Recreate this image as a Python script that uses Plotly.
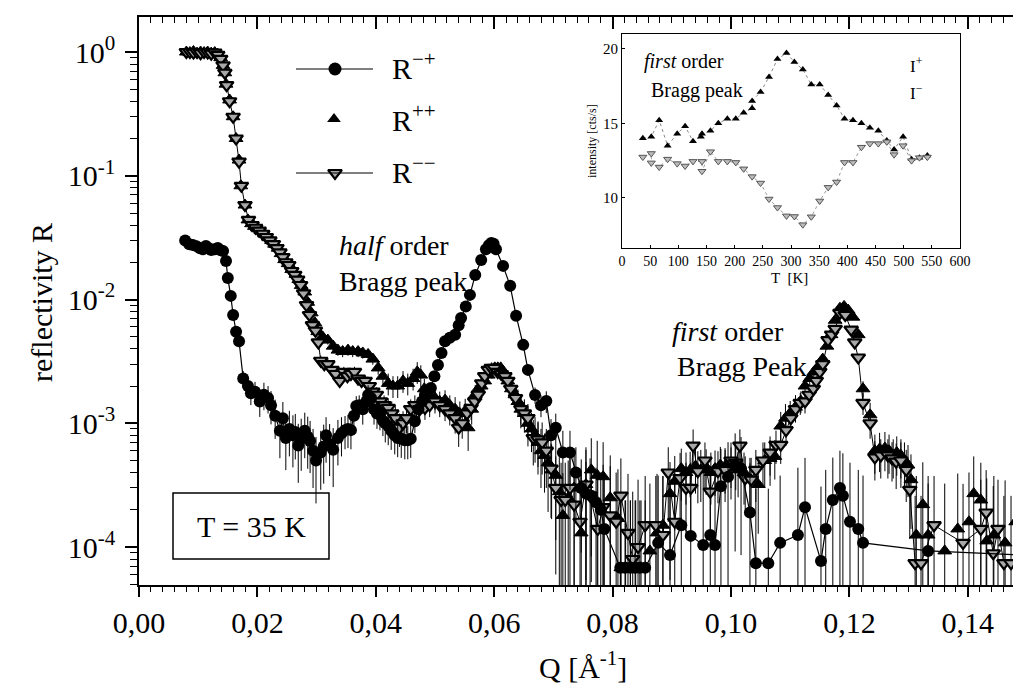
import plotly.graph_objects as go

# ---------------- main chart data ----------------
X_TICKS = [0.00, 0.02, 0.04, 0.06, 0.08, 0.10, 0.12, 0.14]
X_TICKTEXT = ["0,00", "0,02", "0,04", "0,06", "0,08", "0,10", "0,12", "0,14"]
Y_TICKS = [1, 0.1, 0.01, 0.001, 0.0001]
Y_TICKTEXT = ["10<sup>0</sup>", "10<sup>-1</sup>", "10<sup>-2</sup>", "10<sup>-3</sup>", "10<sup>-4</sup>"]

# R-+ (filled circles, connected)
Q_mp = [0.0078, 0.0085, 0.0091, 0.0097, 0.0103, 0.0108, 0.0113, 0.0118, 0.0122, 0.0128,
        0.0133, 0.0138, 0.0142, 0.0147, 0.0150, 0.0155, 0.0159, 0.0164, 0.0169, 0.0176,
        0.0184, 0.0189, 0.0196, 0.0204, 0.0211, 0.0218, 0.0223, 0.0230, 0.0238, 0.0243,
        0.0248, 0.0254, 0.0260, 0.0264, 0.0269, 0.0274, 0.0280, 0.0285, 0.0289, 0.0294,
        0.0299, 0.0307, 0.0312, 0.0316, 0.0322, 0.0328, 0.0336, 0.0342, 0.0348, 0.0353,
        0.0358, 0.0363, 0.0367, 0.0372, 0.0378, 0.0384, 0.0387, 0.0392, 0.0397, 0.0402,
        0.0407, 0.0412, 0.0416, 0.0421, 0.0426, 0.0432, 0.0437, 0.0443, 0.0449, 0.0454,
        0.0459, 0.0466, 0.0472, 0.0478, 0.0483, 0.0488, 0.0493, 0.0499, 0.0505, 0.0511,
        0.0517, 0.0525, 0.0534, 0.0540, 0.0544, 0.0552, 0.0559, 0.0568, 0.0578, 0.0586,
        0.0591, 0.0595, 0.0599, 0.0603, 0.0615, 0.0627, 0.0637, 0.0649, 0.0657, 0.0669,
        0.0679, 0.0688, 0.0696, 0.0704, 0.0716, 0.0728, 0.0738, 0.0747, 0.0755, 0.0764,
        0.0772, 0.0780, 0.0786, 0.0813, 0.0821, 0.0830, 0.0838, 0.0846, 0.0855, 0.0877,
        0.0897, 0.0916, 0.0932, 0.0953, 0.0965, 0.0973, 0.0983, 0.0995, 0.1007, 0.1017,
        0.1032, 0.1042, 0.1063, 0.1083, 0.1113, 0.1125, 0.1152, 0.1160, 0.1172, 0.1184,
        0.1189, 0.1201, 0.1215, 0.1223, 0.1333, 0.1520]
R_mp = [0.030, 0.028, 0.0276, 0.027, 0.026, 0.0255, 0.0271, 0.026, 0.0251, 0.0255,
        0.0261, 0.025, 0.0247, 0.0205, 0.0149, 0.0107, 0.0075, 0.0055, 0.0046, 0.0023,
        0.0020, 0.00175, 0.0018, 0.0015, 0.0017, 0.0016, 0.0014, 0.00115, 0.00087, 0.0011,
        0.00076, 0.0009, 0.0008, 0.00085, 0.00066, 0.00075, 0.00087, 0.00078, 0.00072, 0.0006,
        0.0005, 0.00058, 0.00065, 0.0008, 0.00068, 0.00061, 0.00076, 0.00083, 0.00088, 0.0009,
        0.00088, 0.00115, 0.00138, 0.0014, 0.0013, 0.0015, 0.00169, 0.0016, 0.0013, 0.0012,
        0.00117, 0.00105, 0.0010, 0.00095, 0.00087, 0.0008, 0.00076, 0.00075, 0.00073, 0.00073,
        0.00075, 0.00104, 0.0013, 0.0015, 0.00169, 0.0018, 0.00193, 0.0024, 0.00296, 0.0037,
        0.0046, 0.0049, 0.0052, 0.0062, 0.0071, 0.0088, 0.0109, 0.0158, 0.0209, 0.0255,
        0.0275, 0.0286, 0.0282, 0.0255, 0.0187, 0.0129, 0.0074, 0.0043, 0.0027, 0.00169,
        0.0014, 0.00151, 0.0008, 0.00092, 0.00058, 0.00058, 0.0004, 0.0003, 0.00027, 0.00026,
        0.00023, 0.0002, 0.00014, 6.8e-5, 6.8e-5, 6.8e-5, 6.8e-5, 6.8e-5, 6.8e-5, 0.000108,
        0.000086, 0.00015, 0.000123, 0.000104, 0.000125, 0.000104, 0.00031, 0.00037, 0.00046, 0.00043,
        0.00019, 0.000074, 0.000074, 0.000108, 0.000125, 0.00021, 0.000077, 0.00014, 0.00024, 0.0003,
        0.00026, 0.00016, 0.00014, 0.000108, 0.000093, 0.000085]
relerr_mp = [0.03, 0.03, 0.03, 0.03, 0.03, 0.03, 0.03, 0.03, 0.03, 0.03,
             0.03, 0.03, 0.03, 0.03, 0.03, 0.03, 0.05, 0.05, 0.05, 0.15,
             0.15, 0.2, 0.2, 0.25, 0.25, 0.25, 0.3, 0.35, 0.4, 0.35,
             0.45, 0.4, 0.45, 0.4, 0.5, 0.45, 0.4, 0.45, 0.45, 0.5,
             0.55, 0.5, 0.5, 0.4, 0.45, 0.5, 0.4, 0.35, 0.3, 0.3,
             0.3, 0.25, 0.2, 0.2, 0.25, 0.2, 0.2, 0.2, 0.25, 0.25,
             0.25, 0.25, 0.3, 0.3, 0.3, 0.3, 0.3, 0.3, 0.3, 0.3,
             0.3, 0.2, 0.15, 0.15, 0.1, 0.1, 0.1, 0.1, 0.05, 0.05,
             0.05, 0.05, 0.05, 0.05, 0.05, 0.05, 0.05, 0.05, 0.05, 0.05,
             0.05, 0.05, 0.05, 0.05, 0.05, 0.05, 0.05, 0.05, 0.1, 0.15,
             0.2, 0.2, 0.35, 0.3, 0.5, 0.5, 0.6, 0.7, 0.8, 0.8,
             0.9, 1.0, 1.5, 2.5, 2.5, 2.5, 2.5, 2.5, 2.5, 2.5,
             3.0, 2.0, 2.5, 3.0, 2.5, 3.0, 1.0, 0.9, 0.8, 0.8,
             1.5, 3.0, 3.0, 2.5, 2.5, 1.5, 3.0, 2.0, 1.2, 1.0,
             1.2, 2.0, 2.0, 2.5, 2.5, 0.0]

# R++ (filled up-triangles)
Q_pp = [0.0080, 0.0086, 0.0092, 0.0098, 0.0104, 0.0110, 0.0116, 0.0122, 0.0128, 0.0133,
        0.0138, 0.0142, 0.0145, 0.0147, 0.0153, 0.0159, 0.0164, 0.0169, 0.0172, 0.0179,
        0.0184, 0.0190, 0.0195, 0.0200, 0.0206, 0.0212, 0.0218, 0.0224, 0.0229, 0.0235,
        0.0240, 0.0246, 0.0252, 0.0258, 0.0265, 0.0270, 0.0274, 0.0280, 0.0285, 0.0291,
        0.0297, 0.0302, 0.0310, 0.0319, 0.0328, 0.0336, 0.0344, 0.0353, 0.0361, 0.0370,
        0.0378, 0.0387, 0.0395, 0.0404, 0.0412, 0.0421, 0.0429, 0.0437, 0.0446, 0.0454,
        0.0463, 0.0470, 0.0476, 0.0482, 0.0488, 0.0494, 0.0500, 0.0508, 0.0517, 0.0525,
        0.0534, 0.0542, 0.0551, 0.0556, 0.0562, 0.0568, 0.0573, 0.0578, 0.0584, 0.0590,
        0.0596, 0.0601, 0.0606, 0.0611, 0.0617, 0.0623, 0.0629, 0.0635, 0.0640, 0.0645,
        0.0651, 0.0657, 0.0663, 0.0669, 0.0674, 0.0679, 0.0685, 0.0691, 0.0697, 0.0704,
        0.0710, 0.0716, 0.0725, 0.0735, 0.0747, 0.0755, 0.0764, 0.0774, 0.0784, 0.0796,
        0.0809, 0.0814, 0.0822, 0.0830, 0.0839, 0.0848, 0.0863, 0.0875, 0.0885, 0.0897,
        0.0905, 0.0916, 0.0924, 0.0931, 0.0940, 0.0949, 0.0958, 0.0966, 0.0973, 0.0982,
        0.0990, 0.1000, 0.1012, 0.1022, 0.1032, 0.1046, 0.1057, 0.1066, 0.1074, 0.1084,
        0.1092, 0.1100, 0.1109, 0.1118, 0.1125, 0.1133, 0.1140, 0.1148, 0.1155, 0.1162,
        0.1169, 0.1176, 0.1184, 0.1191, 0.1198, 0.1206, 0.1215, 0.1223, 0.1235, 0.1243,
        0.1251, 0.1260, 0.1267, 0.1274, 0.1280, 0.1287, 0.1293, 0.1299, 0.1304, 0.1313,
        0.1324, 0.1333, 0.1361, 0.1383, 0.1402, 0.1410, 0.1422, 0.1432, 0.1444, 0.1463,
        0.1481]
R_pp = [1.0, 0.99, 1.01, 0.98, 1.0, 0.99, 1.0, 0.98, 0.99, 0.96,
        0.90, 0.78, 0.68, 0.55, 0.41, 0.30, 0.20, 0.134, 0.083, 0.058,
        0.044, 0.041, 0.039, 0.038, 0.036, 0.034, 0.032, 0.030, 0.028, 0.026,
        0.0235, 0.021, 0.0195, 0.0175, 0.016, 0.0145, 0.013, 0.0115, 0.0095, 0.0078,
        0.0065, 0.0055, 0.005, 0.0047, 0.0042, 0.0039, 0.0038, 0.0039, 0.0038, 0.0038,
        0.0037, 0.0036, 0.0033, 0.0028, 0.0024, 0.0021, 0.0020, 0.0020, 0.0022, 0.0021,
        0.0023, 0.0026, 0.00245, 0.0019, 0.0017, 0.0016, 0.0016, 0.0015, 0.00154, 0.0014,
        0.0013, 0.0012, 0.00126, 0.00092, 0.0013, 0.0017, 0.0019, 0.0020, 0.0022, 0.00245,
        0.0027, 0.0028, 0.0028, 0.0028, 0.0025, 0.0022, 0.0019, 0.0017, 0.0015, 0.0013,
        0.0012, 0.0010, 0.0009, 0.0008, 0.0007, 0.0006, 0.00055, 0.00048, 0.00042, 0.00038,
        0.00028, 0.00018, 0.00025, 0.00030, 0.00013, 0.00032, 0.00042, 0.00038, 0.00037, 0.00025,
        0.00017, 6.8e-5, 6.8e-5, 6.8e-5, 6.8e-5, 6.8e-5, 9.3e-5, 0.00013, 0.00015, 0.00027,
        0.00034, 0.00043, 0.00040, 0.00042, 0.00045, 0.00042, 0.00044, 0.00040, 0.00043, 0.00046,
        0.00045, 0.00044, 0.00042, 0.00040, 0.00035, 0.00032, 0.00050, 0.00052, 0.00054, 0.00095,
        0.00110, 0.00121, 0.00135, 0.00151, 0.0020, 0.0023, 0.0026, 0.0029, 0.0033, 0.0042,
        0.0052, 0.0068, 0.0085, 0.0088, 0.0082, 0.0072, 0.0052, 0.0019, 0.00117, 0.0006,
        0.00062, 0.00063, 0.0006, 0.00055, 0.00058, 0.00055, 0.0005, 0.00046, 0.00035, 0.000125,
        0.00022, 0.000125, 9.3e-5, 0.00014, 0.00016, 0.00027, 0.00024, 0.000112, 0.000125, 0.000108,
        0.00016]
relerr_pp = [0.02] * 20 + [0.03] * 20 + [
    0.05, 0.05, 0.08, 0.08, 0.1, 0.1, 0.1, 0.1, 0.1, 0.1,
    0.1, 0.1, 0.1, 0.12, 0.15, 0.2, 0.2, 0.2, 0.2, 0.2,
    0.2, 0.2, 0.2, 0.2, 0.2, 0.2, 0.2, 0.2, 0.2, 0.2,
    0.25, 0.25, 0.25, 0.35, 0.25, 0.2, 0.2, 0.2, 0.15, 0.15,
    0.15, 0.12, 0.12, 0.12, 0.15, 0.15, 0.2, 0.2, 0.25, 0.3,
    0.3, 0.35, 0.35, 0.4, 0.45, 0.5, 0.5, 0.6, 0.6, 0.7,
    0.9, 1.2, 1.0, 0.9, 2.0, 1.0, 0.8, 0.9, 0.9, 1.2,
    1.5, 2.5, 2.5, 2.5, 2.5, 2.5, 2.5, 2.0, 1.5, 0.8,
    0.6, 0.45, 0.45, 0.4, 0.4, 0.45, 0.4, 0.45, 0.4, 0.4,
    0.4, 0.45, 0.4, 0.45, 0.5, 0.6, 0.4, 0.4, 0.35, 0.3,
    0.3, 0.25, 0.25, 0.2, 0.15, 0.12, 0.1, 0.1, 0.08, 0.06,
    0.05, 0.05, 0.05, 0.05, 0.05, 0.05, 0.05, 0.15, 0.25, 0.35,
    0.35, 0.35, 0.35, 0.35, 0.35, 0.35, 0.4, 0.45, 0.6, 2.0,
    1.2, 2.0, 2.5, 1.8, 1.5, 1.0, 1.0, 2.2, 2.0, 2.2,
    1.5]

# R-- (open down-triangles, connected)
Q_mm = [0.0080, 0.0086, 0.0092, 0.0098, 0.0104, 0.0110, 0.0116, 0.0122, 0.0128, 0.0133,
        0.0138, 0.0142, 0.0145, 0.0148, 0.0153, 0.0159, 0.0164, 0.0169, 0.0173, 0.0179,
        0.0185, 0.0191, 0.0197, 0.0203, 0.0209, 0.0215, 0.0221, 0.0227, 0.0233, 0.0238,
        0.0243, 0.0248, 0.0253, 0.0258, 0.0263, 0.0268, 0.0273, 0.0278, 0.0283, 0.0288,
        0.0293, 0.0298, 0.0303, 0.0307, 0.0313, 0.0319, 0.0326, 0.0332, 0.0339, 0.0346,
        0.0352, 0.0358, 0.0364, 0.0370, 0.0376, 0.0382, 0.0389, 0.0395, 0.0401, 0.0408,
        0.0414, 0.0421, 0.0427, 0.0433, 0.0440, 0.0446, 0.0452, 0.0459, 0.0466, 0.0474,
        0.0483, 0.0491, 0.0500, 0.0508, 0.0517, 0.0525, 0.0534, 0.0540, 0.0546, 0.0554,
        0.0561, 0.0567, 0.0573, 0.0579, 0.0584, 0.0590, 0.0595, 0.0600, 0.0606, 0.0612,
        0.0618, 0.0623, 0.0628, 0.0636, 0.0645, 0.0651, 0.0657, 0.0666, 0.0674, 0.0681,
        0.0688, 0.0696, 0.0704, 0.0713, 0.0720, 0.0728, 0.0735, 0.0745, 0.0755, 0.0762,
        0.0775, 0.0784, 0.0796, 0.0806, 0.0814, 0.0826, 0.0834, 0.0843, 0.0855, 0.0873,
        0.0885, 0.0894, 0.0905, 0.0914, 0.0924, 0.0932, 0.0936, 0.0944, 0.0956, 0.0965,
        0.0978, 0.0990, 0.1000, 0.1008, 0.1015, 0.1024, 0.1034, 0.1042, 0.1054, 0.1066,
        0.1076, 0.1084, 0.1093, 0.1101, 0.1109, 0.1117, 0.1125, 0.1132, 0.1139, 0.1144,
        0.1150, 0.1155, 0.1164, 0.1170, 0.1176, 0.1184, 0.1193, 0.1203, 0.1209, 0.1215,
        0.1223, 0.1235, 0.1243, 0.1253, 0.1265, 0.1272, 0.1279, 0.1287, 0.1296, 0.1302,
        0.1311, 0.1321, 0.1343, 0.1392, 0.1422, 0.1431, 0.1443, 0.1451, 0.1461, 0.1473,
        0.1490]
R_mm = [1.0, 1.0, 0.99, 1.0, 0.98, 1.0, 0.99, 0.97, 0.99, 0.95,
        0.88, 0.78, 0.68, 0.54, 0.40, 0.30, 0.20, 0.13, 0.083, 0.058,
        0.044, 0.040, 0.038, 0.036, 0.034, 0.032, 0.030, 0.028, 0.026, 0.024,
        0.022, 0.020, 0.019, 0.017, 0.0158, 0.0145, 0.0131, 0.0112, 0.0090, 0.0075,
        0.0062, 0.0056, 0.0045, 0.0032, 0.0030, 0.0030, 0.0027, 0.0025, 0.0022, 0.0026,
        0.0024, 0.0025, 0.0026, 0.0023, 0.0022, 0.0022, 0.0020, 0.0018, 0.0017, 0.0015,
        0.0014, 0.00133, 0.0012, 0.0011, 0.00092, 0.0010, 0.0011, 0.0013, 0.0014, 0.0013,
        0.00133, 0.0014, 0.0015, 0.0014, 0.0013, 0.0012, 0.0011, 0.00092, 0.0010, 0.0012,
        0.00133, 0.0015, 0.0017, 0.0021, 0.0024, 0.0027, 0.0028, 0.0028, 0.0026, 0.0025,
        0.0024, 0.0022, 0.0019, 0.0016, 0.0013, 0.0012, 0.0011, 0.00076, 0.00074, 0.00070,
        0.0006, 0.00043, 0.0003, 0.00024, 0.00024, 0.0003, 0.00022, 0.00016, 0.00032, 0.00026,
        0.00014, 0.00021, 0.00018, 0.00016, 0.00026, 0.00013, 8.0e-5, 0.0001, 0.00015, 0.00015,
        0.000125, 0.0004, 0.00016, 0.00036, 0.0003, 0.0003, 0.00066, 0.00041, 0.0005, 0.00028,
        0.00041, 0.00042, 0.0005, 0.00048, 0.00066, 0.00036, 0.00035, 0.00042, 0.0005, 0.00058,
        0.00067, 0.00067, 0.00088, 0.0011, 0.0013, 0.00146, 0.0015, 0.0017, 0.0019, 0.0022,
        0.0026, 0.0030, 0.0047, 0.0052, 0.0058, 0.0078, 0.0075, 0.0057, 0.0045, 0.0034,
        0.00146, 0.0010, 0.00053, 0.00055, 0.00055, 0.00052, 0.00049, 0.0005, 0.00042, 0.00029,
        7.4e-5, 7.4e-5, 0.00015, 0.000108, 0.00014, 0.00019, 8.9e-5, 0.00014, 7.4e-5, 7.4e-5,
        9.0e-5]
relerr_mm = [0.02] * 20 + [0.03] * 20 + [
    0.05, 0.05, 0.08, 0.1, 0.1, 0.1, 0.1, 0.1, 0.12, 0.1,
    0.1, 0.1, 0.1, 0.12, 0.12, 0.12, 0.15, 0.15, 0.15, 0.2,
    0.2, 0.2, 0.25, 0.25, 0.3, 0.25, 0.25, 0.2, 0.2, 0.2,
    0.2, 0.2, 0.2, 0.2, 0.2, 0.2, 0.25, 0.3, 0.25, 0.2,
    0.2, 0.15, 0.15, 0.12, 0.1, 0.1, 0.1, 0.1, 0.1, 0.1,
    0.1, 0.12, 0.15, 0.2, 0.25, 0.25, 0.3, 0.4, 0.4, 0.45,
    0.5, 0.6, 0.8, 1.0, 1.0, 0.9, 1.0, 1.5, 0.9, 1.0,
    2.0, 1.2, 1.5, 1.5, 1.0, 2.0, 2.5, 2.5, 1.5, 1.5,
    2.0, 0.6, 1.5, 0.6, 0.6, 0.6, 0.35, 0.45, 0.4, 0.6,
    0.45, 0.45, 0.4, 0.4, 0.35, 0.5, 0.5, 0.45, 0.4, 0.35,
    0.3, 0.3, 0.25, 0.2, 0.2, 0.2, 0.2, 0.15, 0.12, 0.1,
    0.08, 0.06, 0.05, 0.05, 0.05, 0.05, 0.05, 0.05, 0.05, 0.06,
    0.2, 0.25, 0.35, 0.35, 0.35, 0.35, 0.4, 0.4, 0.45, 0.6,
    2.5, 2.5, 1.5, 2.0, 1.5, 1.2, 2.5, 1.5, 2.5, 2.5,
    2.0]

# ---------------- inset data ----------------
T_up = [37, 52, 66, 81, 98, 112, 126, 140, 142, 157, 171, 187, 202, 216, 231, 231, 246, 261, 276, 292,
        306, 321, 336, 351, 366, 381, 395, 410, 425, 440, 455, 470, 483, 499, 514, 528, 542]
I_up = [14.0, 14.1, 15.2, 13.5, 14.3, 14.8, 13.8, 14.1, 14.3, 14.5, 15.0, 15.3, 15.3, 15.7, 16.0, 16.5,
        17.1, 18.1, 19.3, 19.7, 19.1, 18.6, 17.6, 17.6, 16.9, 16.2, 15.3, 15.2, 15.0, 14.7, 14.5, 13.85,
        13.25, 14.1, 12.6, 12.7, 12.85]
T_dn = [37, 52, 52, 66, 81, 98, 112, 126, 142, 142, 157, 171, 187, 202, 216, 231, 246, 261, 276, 292,
        306, 321, 336, 351, 366, 381, 395, 410, 425, 440, 455, 470, 483, 499, 514, 528, 542]
I_dn = [12.74, 12.98, 12.35, 12.07, 12.6, 12.3, 12.14, 12.45, 12.45, 11.79, 13.1, 12.45, 12.45, 12.38,
        11.95, 11.43, 11.0, 9.93, 9.36, 8.8, 8.76, 8.21, 8.74, 9.8, 10.71, 11.07, 12.38, 12.38, 13.4,
        13.64, 13.64, 13.76, 12.9, 13.5, 12.5, 12.7, 12.74]
INSET_XTICKS = list(range(0, 601, 50))
INSET_YTICKS = [10, 15, 20]

# ---------------- figure ----------------
W, H = 1021, 689
ML, MR, MT, MB = 131, 2, 9, 112
PW, PH = W - ML - MR, H - MT - MB
SERIF = "Liberation Serif"


def px(x):
    return (x - ML) / PW


def py(y):
    return (H - MB - y) / PH


def eb(R, rel):
    return dict(type="data", array=[r * e for r, e in zip(R, rel)], visible=True,
                color="black", thickness=1, width=0)


fig = go.Figure()

fig.add_trace(go.Scatter(
    x=Q_pp, y=R_pp, mode="markers",
    marker=dict(symbol="triangle-up", size=12, color="black", line=dict(color="black", width=1)),
    error_y=eb(R_pp, relerr_pp), hoverinfo="skip"))
fig.add_trace(go.Scatter(
    x=Q_mm, y=R_mm, mode="lines+markers", line=dict(color="black", width=1),
    marker=dict(symbol="triangle-down", size=12, color="#a8a8a8", line=dict(color="black", width=2.2)),
    error_y=eb(R_mm, relerr_mm), hoverinfo="skip"))
fig.add_trace(go.Scatter(
    x=Q_mp, y=R_mp, mode="lines+markers", line=dict(color="black", width=1.2),
    marker=dict(symbol="circle", size=12, color="black"),
    error_y=eb(R_mp, relerr_mp), hoverinfo="skip"))

# mirror axes (top / right, inward ticks)
fig.add_trace(go.Scatter(x=[None], y=[None], xaxis="x2", yaxis="y2", showlegend=False))

# legend glyphs on an overlay axis spanning the plot area
fig.add_trace(go.Scatter(
    x=[px(327)], y=[py(61)], xaxis="x3", yaxis="y3", mode="markers",
    marker=dict(symbol="circle", size=13, color="black"), hoverinfo="skip"))
fig.add_trace(go.Scatter(
    x=[px(326)], y=[py(111)], xaxis="x3", yaxis="y3", mode="markers",
    marker=dict(symbol="triangle-up", size=12, color="black"), hoverinfo="skip"))
fig.add_trace(go.Scatter(
    x=[px(327)], y=[py(165)], xaxis="x3", yaxis="y3", mode="markers",
    marker=dict(symbol="triangle-down", size=12, color="#a8a8a8", line=dict(color="black", width=2.2)),
    hoverinfo="skip"))
fig.add_trace(go.Scatter(
    x=[px(880)], y=[py(58)], xaxis="x3", yaxis="y3", mode="markers",
    marker=dict(symbol="triangle-up", size=7, color="black"), hoverinfo="skip"))
fig.add_trace(go.Scatter(
    x=[px(880)], y=[py(85)], xaxis="x3", yaxis="y3", mode="markers",
    marker=dict(symbol="triangle-down", size=7, color="#bbbbbb", line=dict(color="#555", width=1)),
    hoverinfo="skip"))

# inset
fig.add_trace(go.Scatter(
    x=T_up, y=I_up, xaxis="x4", yaxis="y4", mode="lines+markers",
    line=dict(color="#888", width=1, dash="dot"),
    marker=dict(symbol="triangle-up", size=7, color="black"), hoverinfo="skip"))
fig.add_trace(go.Scatter(
    x=T_dn, y=I_dn, xaxis="x4", yaxis="y4", mode="lines+markers",
    line=dict(color="#999", width=1, dash="dot"),
    marker=dict(symbol="triangle-down", size=7, color="#bbbbbb", line=dict(color="#555", width=1)),
    hoverinfo="skip"))

y_minor = [k * 10 ** d for d in range(-5, 1) for k in range(2, 10)]
axcommon = dict(showgrid=False, zeroline=False, linecolor="black", tickcolor="black")

fig.update_layout(
    width=W, height=H,
    margin=dict(l=ML, r=MR, t=MT, b=MB, autoexpand=False),
    paper_bgcolor="white", plot_bgcolor="white", showlegend=False,
    font=dict(family=SERIF, color="black", size=30),
    xaxis=dict(range=[0, 0.15], tickmode="array", tickvals=X_TICKS, ticktext=X_TICKTEXT,
               ticks="outside", ticklen=10, tickwidth=1.5, showline=True, linewidth=1.5,
               tickfont=dict(family=SERIF, size=30),
               minor=dict(tick0=0, dtick=0.002, ticks="outside", ticklen=5, tickwidth=1,
                          tickcolor="black", showgrid=False),
               **axcommon),
    yaxis=dict(type="log", range=[-4.307, 0.283], tickmode="array", tickvals=Y_TICKS,
               ticktext=Y_TICKTEXT, ticks="outside", ticklen=12, tickwidth=1.5, showline=True,
               linewidth=1.5, tickfont=dict(family=SERIF, size=30), ticklabelstandoff=4,
               minor=dict(tickmode="array", tickvals=y_minor, ticks="outside", ticklen=7,
                          tickwidth=1, tickcolor="black", showgrid=False),
               **axcommon),
    xaxis2=dict(overlaying="x", side="top", range=[0, 0.15], tickmode="array", tickvals=X_TICKS,
                showticklabels=False, ticks="inside", ticklen=12, tickwidth=1.5, showline=True,
                linewidth=1.5,
                minor=dict(tick0=0, dtick=0.002, ticks="inside", ticklen=6, tickwidth=1,
                           tickcolor="black", showgrid=False),
                **axcommon),
    yaxis2=dict(overlaying="y", side="right", type="log", range=[-4.307, 0.283], tickmode="array",
                tickvals=Y_TICKS, showticklabels=False, ticks="inside", ticklen=9, tickwidth=1.5,
                showline=True, linewidth=1.5,
                minor=dict(tickmode="array", tickvals=y_minor, ticks="inside", ticklen=5,
                           tickwidth=1, tickcolor="black", showgrid=False),
                **axcommon),
    xaxis3=dict(overlaying="x", range=[0, 1], visible=False),
    yaxis3=dict(overlaying="y", range=[0, 1], visible=False),
    xaxis4=dict(domain=[px(614), px(952)], anchor="y4", range=[0, 600], tickmode="array",
                tickvals=INSET_XTICKS, ticks="inside", ticklen=3, showline=True, mirror=True,
                linewidth=1, tickfont=dict(family=SERIF, size=14), **axcommon),
    yaxis4=dict(domain=[py(240), py(26)], anchor="x4", range=[6.65, 20.98], tickmode="array",
                tickvals=INSET_YTICKS, ticks="inside", ticklen=3, showline=True, mirror=True,
                linewidth=1, tickfont=dict(family=SERIF, size=15), **axcommon),
)

shapes = [
    dict(type="line", xref="paper", yref="paper", x0=px(288), x1=px(365), y0=py(61), y1=py(61),
         line=dict(color="black", width=1.2)),
    dict(type="line", xref="paper", yref="paper", x0=px(288), x1=px(365), y0=py(165), y1=py(165),
         line=dict(color="black", width=1.2)),
    dict(type="rect", xref="paper", yref="paper", x0=px(165), x1=px(321), y0=py(551), y1=py(485),
         line=dict(color="black", width=1.5), fillcolor="rgba(0,0,0,0)"),
]
fig.update_layout(shapes=shapes)

ann = []


def A(text, x, y, size, xanchor="left", **kw):
    ann.append(dict(text=text, x=px(x), y=py(y), xref="paper", yref="paper", showarrow=False,
                    xanchor=xanchor, yanchor="middle", font=dict(family=SERIF, size=size, color="black"),
                    **kw))


A("R<sup>−+</sup>", 382, 58, 30)
A("R<sup>++</sup>", 382, 110, 30)
A("R<sup>−−</sup>", 382, 162, 30)
A("<i>half</i> order", 329, 237, 28)
A("Bragg peak", 329, 273, 28)
A("<i>first</i> order", 662, 323, 28)
A("Bragg Peak", 667, 358, 28)
A("T = 35 K", 243, 518, 30, xanchor="center")
A("reflectivity R", 33, 295, 30, xanchor="center", textangle=-90)
A("Q [Å<sup>-1</sup>]", 575, 657, 30, xanchor="center")
# inset texts
A("<i>first</i> order", 634, 53, 20)
A("Bragg peak", 641, 82, 20)
A("I<sup>+</sup>", 900, 57, 17)
A("I<sup>−</sup>", 900, 84, 17)
A("T  [K]", 781, 270, 15, xanchor="center")
A("intensity [cts/s]", 584, 133, 12, xanchor="center", textangle=-90)
fig.update_layout(annotations=ann)

fig.write_html("out.html")
